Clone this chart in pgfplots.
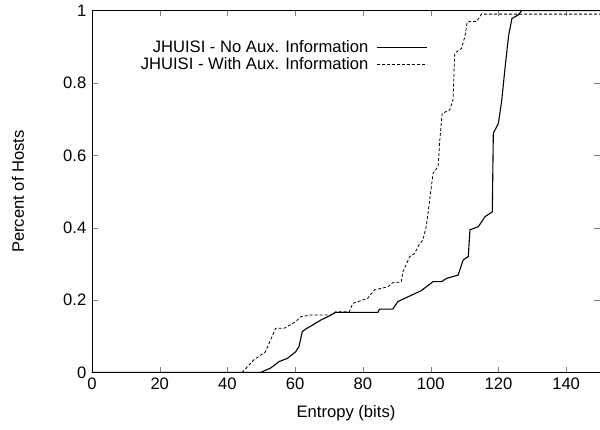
\documentclass[border=0pt]{standalone}
\usepackage{fontspec}
\setmainfont{Liberation Sans}
\usepackage{pgfplots}
\pgfplotsset{compat=1.18}
\usetikzlibrary{calc}

\begin{document}
\fontsize{16.6bp}{18bp}\selectfont
\begin{tikzpicture}
\begin{axis}[
    scale only axis,
    width=508bp, height=362bp,
    xmin=0, xmax=150, ymin=0, ymax=1,
    xtick={0,20,...,140},
    ytick={0,0.2,...,1},
    tick align=inside,
    major tick length=6bp,
    /pgf/number format/assume math mode=true,
    xlabel={Entropy (bits)},
    ylabel={Percent of Hosts},
    x label style={at={(axis description cs:0.5,-0.112)}, anchor=center},
    y label style={at={(axis description cs:-0.146,0.5)}, anchor=center},
    legend style={at={(axis cs:100,0.93)}, anchor=north east, draw=none, fill=none,
        row sep=-1.5bp, column sep=6bp, font=\fontsize{16.6bp}{18bp}\selectfont},
    legend cell align=right,
    legend plot pos=right,
    legend image code/.code={\draw[#1] (0bp,0bp) -- (50bp,0bp);},
]
\addplot[black, line width=1.1pt] coordinates {
(0,0) (49.7,0) (52.7,0.012) (55.2,0.03) (57.7,0.039) (60.1,0.057) (61.1,0.071)
(62.1,0.113) (63.1,0.12) (65.1,0.131) (67.6,0.145) (69.6,0.154) (72,0.166)
(84.4,0.166) (84.9,0.175) (88.8,0.175) (90.3,0.196) (93.3,0.209) (97.2,0.226)
(100.7,0.251) (103.2,0.251) (104.7,0.26) (108.1,0.269) (109.6,0.311) (111.1,0.32)
(111.6,0.394) (114.1,0.403) (116,0.43) (118.2,0.444) (118.5,0.661) (120,0.688)
(121,0.753) (122,0.845) (123,0.93) (124,0.978) (125.9,0.988) (126.9,1) (150,1)
};
\addlegendentry{JHUISI - No Aux. Information}
\addplot[black, line width=0.8pt, dash pattern=on 3bp off 2bp] coordinates {
(0,0) (44.3,0) (47.8,0.035) (51.2,0.057) (54.2,0.122) (56.7,0.122) (60.1,0.14)
(61.6,0.154) (64.6,0.159) (70.5,0.159) (72,0.168) (76,0.168) (77,0.191)
(81.4,0.205) (83.4,0.228) (87.4,0.237) (88.8,0.248) (91.3,0.25) (91.8,0.278)
(93.8,0.32) (95.3,0.329) (96.5,0.352) (97.7,0.366) (98.7,0.403) (99.7,0.476)
(100.7,0.55) (102.2,0.569) (102.7,0.642) (103.4,0.716) (105.6,0.725) (106.6,0.753)
(107.1,0.882) (109.1,0.895) (110.1,0.928) (110.8,0.969) (113.6,0.97) (115,0.99)
(150,0.99)
};
\addlegendentry{JHUISI - With Aux. Information}
\coordinate (sw) at (rel axis cs:0,0);
\coordinate (ne) at (rel axis cs:1,1);
\end{axis}
\pgfresetboundingbox
\path ($(sw)+(-92bp,-57.5bp)$) rectangle ($(ne)+(0bp,10.5bp)$);
\end{tikzpicture}
\end{document}
